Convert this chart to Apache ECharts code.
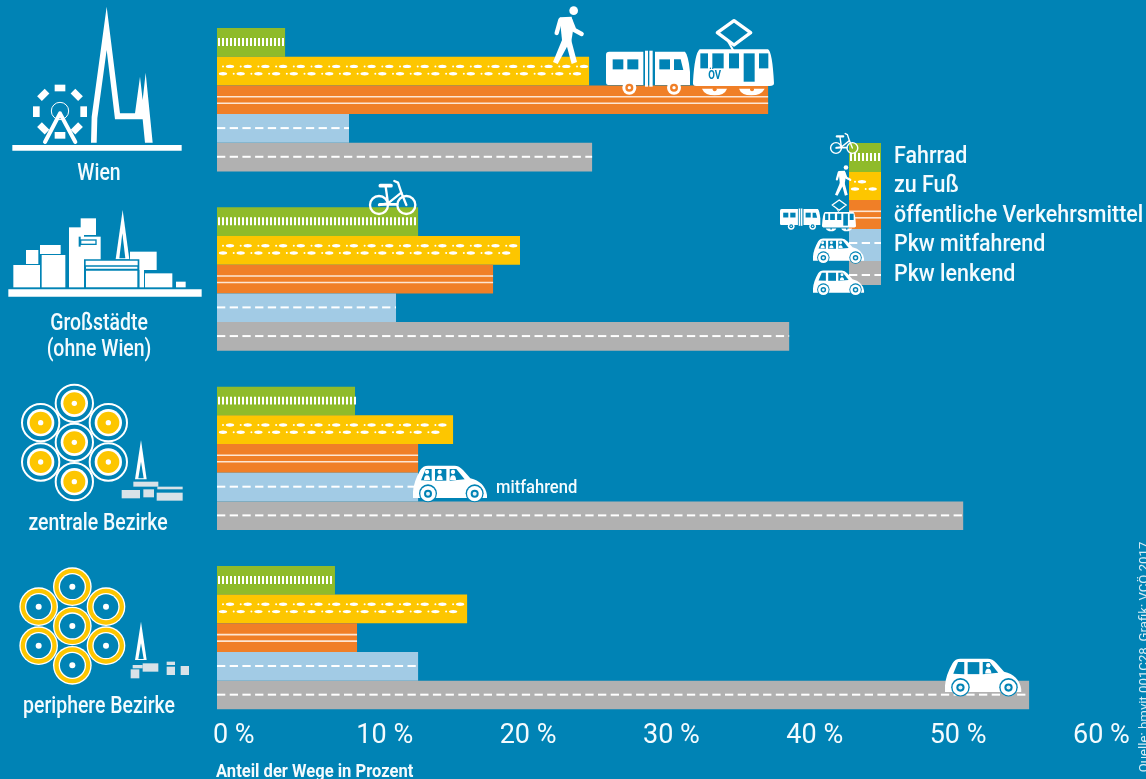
<!DOCTYPE html>
<html><head><meta charset="utf-8">
<style>html,body{margin:0;padding:0;background:#0083b5}#c{width:1146px;height:779px}</style>
<script src="https://cdn.jsdelivr.net/npm/echarts@6/dist/echarts.min.js"></script>
</head><body><div id="c"></div>
<script>
const categories = ['Wien', 'Großstädte\n(ohne Wien)', 'zentrale Bezirke', 'periphere Bezirke'];
const seriesNames = ['Fahrrad', 'zu Fuß', 'öffentliche Verkehrsmittel', 'Pkw mitfahrend', 'Pkw lenkend'];
const fahrrad = [4.75, 14.03, 9.63, 8.23];
const zuFuss = [25.96, 21.14, 16.47, 17.45];
const oev = [38.45, 19.26, 14.03, 9.77];
const mitfahrend = [9.21, 12.49, 14.03, 14.03];
const lenkend = [26.17, 39.92, 52.06, 56.66];
const BG = '#0083b5', GREEN = '#8fbb2a', YELLOW = '#fdc600', ORANGE = '#f07f27', LBLUE = '#a2cbe5', GRAY = '#b1b1b1';
const colors = [GREEN, YELLOW, ORANGE, LBLUE, GRAY];
const FONT = 'Roboto,"Noto Sans",sans-serif';

/* ---- road markings ---- */
function marks(kind, left, right, top, row, out) {
  const k = row / 28.7;
  const add = (x, y, w, h, fill) => out.push({type:'rect', shape:{x, y, width:w, height:h}, style:{fill}});
  if (kind === 0) {
    for (let x = left + 1; x < right - 1; x += 4) add(x, top + 10 * k, 2, 8 * k, '#fff');
  } else if (kind === 1) {
    [[9.7 * k, 13], [17 * k, 6]].forEach(r => {
      for (let x = left + r[1]; x < right - 3; x += 17.7) {
        out.push({type:'ellipse', shape:{cx:x, cy:top + r[0], rx:4.2, ry:1.7}, style:{fill:'#fff'}});
        if (x - 7 > left) out.push({type:'circle', shape:{cx:x - 7, cy:top + r[0], r:1}, style:{fill:'#fff'}});
      }
    });
  } else if (kind === 2) {
    add(left, top + 10.5 * k, right - left, 1.6, '#fde6d3');
    add(left, top + 17 * k, right - left, 1.6, '#fde6d3');
  } else {
    for (let x = left; x < right; x += 12.7) add(x, top + 13 * k, Math.min(8.3, right - x), 2, '#fff');
  }
}
function overlay(kind) {
  return function (params, api) {
    const end = api.coord([api.value(0), api.value(1)]);
    const start = api.coord([0, api.value(1)]);
    const band = api.size([0, 1])[1];
    const row = band * 0.16;
    const top = end[1] + (kind - 2.5) * row;
    const children = [];
    marks(kind, start[0], end[0], top, row, children);
    return {type:'group', children};
  };
}
const allValues = [fahrrad, zuFuss, oev, mitfahrend, lenkend];
const series = [];
allValues.forEach((vals, i) => series.push({
  type:'bar', name:seriesNames[i], data:vals, barWidth:'16%', barGap:0,
  itemStyle:{color:colors[i]}, silent:true
}));
allValues.forEach((vals, i) => series.push({
  type:'custom', name:seriesNames[i] + ' Markierung', renderItem:overlay(i), silent:true, z:3,
  data:vals.map((v, j) => [v, j]), encode:{x:0, y:1}
}));

/* ---- pictogram helpers ---- */
const P = (d, fill) => ({type:'path', shape:{pathData:d}, style:{fill}});
const L = (d, stroke, w) => ({type:'path', shape:{pathData:d}, style:{fill:'none', stroke, lineWidth:w, lineCap:'round', lineJoin:'round'}});
const C = (cx, cy, r, fill) => ({type:'circle', shape:{cx, cy, r}, style:{fill}});
const O = (cx, cy, r, stroke, w) => ({type:'circle', shape:{cx, cy, r}, style:{fill:'none', stroke, lineWidth:w}});
const R = (x0, y0, x1, y1, fill) => ({type:'rect', shape:{x:x0, y:y0, width:x1 - x0, height:y1 - y0}, style:{fill}});
const G = (x, y, k, children) => ({type:'group', x, y, scaleX:k, scaleY:k, children});
const T = (text, x, y, size, sx, weight, align) => ({type:'text', x, y, scaleX:sx, scaleY:1,
  style:{text, fill:'#f4fbfe', font:(weight || '500') + ' ' + size + 'px ' + FONT, align:align || 'left', verticalAlign:'middle', lineHeight:26}});

function car(x, y, s, people) {
  const k = s / 3, ox = 40, oy = 45;
  const kids = [
    P('M40,125 Q42,95 62,60 Q70,47 85,47 L165,47 Q178,47 190,60 L212,85 Q255,95 262,135 L262,144 L40,144 Z', '#fff'),
    P('M64,91 L78,57 L96,57 L96,92 Z', BG), R(106,57,140,92,BG), P('M150,57 L170,57 L195,88 L150,92 Z', BG)
  ];
  const heads = people === 3 ? [82, 120, 160] : [166];
  heads.forEach(h => { kids.push(C(h, 66, 6.5, '#fff')); kids.push(P(`M${h-9},90 Q${h-9},76 ${h},76 Q${h+9},76 ${h+9},90 Z`, '#fff')); });
  [85, 225].forEach(w => { kids.push(C(w, 130, 27, BG)); kids.push(C(w, 131, 23, '#fff')); kids.push(C(w, 131, 12, BG)); kids.push(C(w, 131, 6, '#e8f2f7')); });
  return G(x - ox * k, y - oy * k, k, kids);
}
function tram(x, y, s, hub) {
  const k = s / 3, kids = [
    L('M613,62 L663,98 L613,135 L563,98 Z', '#fff', 10), L('M596,125 L610,150', '#fff', 6),
    P('M510,148 L715,148 Q728,155 733,250 Q733,258 720,258 L500,258 Q488,258 490,245 Q495,160 510,148 Z', '#fff'),
    R(512,160,535,205,BG), R(548,160,582,205,BG), R(598,160,628,205,BG), R(642,160,675,245,BG), R(688,160,716,205,BG),
    P('M517,266 L592,266 Q585,286 555,286 Q525,286 517,266 Z', '#fff'),
    P('M628,266 L705,266 Q695,286 665,286 Q635,286 628,266 Z', '#fff'),
    C(555, 268, 6, hub), C(667, 268, 6, hub)
  ];
  if (s > 0.7) kids.push({type:'text', x:555, y:228, scaleX:0.8, style:{text:'ÖV', fill:BG, font:'bold 36px ' + FONT, align:'center', verticalAlign:'middle'}});
  return G(x - 490 * k, y - 62 * k, k, kids);
}
function bus(x, y, s, hub) {
  const k = s / 3, kids = [
    P('M228,165 Q228,155 238,155 L340,155 L340,255 L235,255 Q228,255 228,245 Z', '#fff'),
    R(345,152,354,260,'#fff'), R(358,152,368,260,'#fff'),
    P('M375,155 L465,155 Q475,165 480,215 L480,255 L375,255 Z', '#fff'),
    R(248,178,280,208,BG), R(292,178,325,208,BG), R(388,178,420,208,BG), P('M432,178 L452,178 L460,210 L432,210 Z', BG)
  ];
  [298, 432].forEach(w => { kids.push(C(w, 263, 21, '#fff')); kids.push(C(w, 263, 12, hub)); kids.push(C(w, 263, 5, '#fff')); });
  return G(x - 228 * k, y - 155 * k, k, kids);
}
function walker(x, y, s) {
  const k = s / 3;
  return G(x - 70 * k, y - 18 * k, k, [
    C(132, 32, 13, '#fff'),
    P('M90,52 L126,50 L132,80 L124,130 L98,130 Z', '#fff'),
    L('M92,60 L81,99', '#fff', 13), L('M122,60 L134,90 L156,102', '#fff', 13),
    P('M98,118 L70,186 L84,192 L112,140 L126,192 L142,186 L124,118 Z', '#fff')
  ]);
}
function bike(x, y, s) {
  const k = s / 3;
  return G(x - 28 * k, y - 30 * k, k, [
    O(58, 105, 27, '#fff', 7), O(140, 105, 27, '#fff', 7),
    L('M58,105 L85,100 L125,68 L140,105', '#fff', 7),
    L('M85,100 L78,50', '#fff', 7), L('M125,68 L115,38 L104,33', '#fff', 7),
    L('M62,47 L94,47', '#fff', 11), L('M60,103 L112,103', '#fff', 8)
  ]);
}

/* ---- left-hand pictograms ---- */
const wheelSegs = [];
for (let a = 0; a < 8; a++) {
  const t = a * Math.PI / 4;
  wheelSegs.push({type:'rect', x:180 + 71 * Math.sin(t), y:335 - 71 * Math.cos(t), rotation:-t,
    shape:{x:-16, y:-10, width:32, height:20}, style:{fill:'#fff'}});
}
const wien = G(0, 0, 1/3, [
  R(37,435,545,452,'#fff'),
  P('M273,428 L275,350 L320,20 L360,340 L405,340 L420,230 L428,300 L437,218 L458,428 L435,428 L428,358 L345,358 L320,150 L292,355 L290,428 Z', '#fff'),
  ...wheelSegs,
  O(180, 333, 26, '#fff', 3),
  L('M135,426 L180,340 L226,426', '#fff', 12)
]);
const city = G(0, 190, 1/3, [
  R(25,298,605,320,'#fff'), R(40,225,120,292,'#fff'), R(78,180,115,222,'#fff'), R(125,195,196,292,'#fff'), R(120,165,182,192,'#fff'),
  R(207,112,252,292,'#fff'), R(252,140,302,210,'#fff'), R(242,85,288,135,'#fff'),
  R(236,140,242,170,BG), R(240,148,290,165,BG), R(244,152,286,161,'#fff'),
  P('M368,60 L388,208 L347,208 Z', '#fff'), P('M367,130 L376,205 L358,205 Z', BG),
  R(390,185,470,240,'#fff'), R(418,240,432,292,'#fff'),
  R(252,208,418,296,BG), R(257,212,413,226,'#fff'), R(258,242,412,292,'#fff'), R(258,230,412,236,'#fff'),
  R(435,250,517,292,'#fff'), R(528,275,557,292,'#fff')
]);
const centers1 = [[223,70],[122,128],[325,128],[223,187],[122,246],[325,246],[223,305]];
const centers2 = [[217,80],[116,140],[318,140],[217,198],[116,257],[318,257],[217,316]];
const bez1 = G(0, 380, 1/3, [
  ...centers1.flatMap(c => [O(c[0],c[1],56,'#fff',6), C(c[0],c[1],41,'#fff'), C(c[0],c[1],33,YELLOW), C(c[0],c[1],8,'#fff')]),
  P('M423,180 L440,298 L405,298 Z', '#fff'), P('M423,245 L431,295 L415,295 Z', BG),
  R(365,330,420,355,'#d8e2e8'), R(430,328,462,352,'#d8e2e8'), R(470,338,548,362,'#d8e2e8'), R(400,305,475,320,'#d8e2e8'), R(472,320,548,328,'#d8e2e8')
]);
const bez2 = G(0, 560, 1/3, [
  ...centers2.flatMap(c => [C(c[0],c[1],58,'#fff'), C(c[0],c[1],54,YELLOW), C(c[0],c[1],41,'#fff'), C(c[0],c[1],37,BG), C(c[0],c[1],9,'#fff')]),
  P('M423,185 L440,300 L405,300 Z', '#fff'), P('M423,250 L431,297 L415,297 Z', BG),
  R(392,328,418,355,'#d8e2e8'), R(428,310,475,335,'#d8e2e8'), R(398,315,428,325,'#d8e2e8'), R(500,305,525,315,'#d8e2e8'), R(500,320,525,345,'#d8e2e8'), R(542,318,567,345,'#d8e2e8')
]);

/* ---- legend swatches ---- */
const legendRows = [143, 172, 200, 229, 261, 285];
const legendEls = [];
colors.forEach((col, i) => {
  legendEls.push({type:'rect', shape:{x:849, y:legendRows[i], width:32, height:legendRows[i + 1] - legendRows[i]}, style:{fill:col}});
  marks(i, 849, 881, legendRows[i], 28.7, legendEls);
  legendEls.push(T(seriesNames[i], 894, [157, 186, 216, 245, 275][i], 24.5, 0.875));
});

const labelEls = [174, 337, 524, 707].map((y, i) => T(categories[i], [99, 99, 98, 99][i], y, 24, 0.81, '500', 'center'));

series.push({
  type:'custom', name:'Piktogramme', coordinateSystem:'none', silent:true, z:10, data:[[0]],
  renderItem:() => ({type:'group', children:[
    wien, city, bez1, bez2, ...labelEls, ...legendEls,
    walker(553, 6, 1), bus(606, 51.7, 1, ORANGE), tram(693, 20.7, 1, ORANGE),
    bike(369, 180, 1),
    car(413, 465, 1, 3), T('mitfahrend', 496, 488, 18, 0.92),
    car(945, 658, 1.03, 1),
    bike(830, 133, 0.6), walker(835, 165, 0.53), bus(780, 209, 0.48, BG), tram(822, 200, 0.42, BG),
    car(813, 238, 0.69, 3), car(813, 270, 0.69, 1),
    T('Anteil der Wege in Prozent', 216, 772, 18, 0.92, 'bold'),
    {type:'text', x:1145, y:657, rotation:Math.PI / 2,
      style:{text:'Quelle: bmvit 001C28, Grafik: VCÖ 2017', fill:'#d6ecf5', font:'13.2px ' + FONT, align:'center', verticalAlign:'middle'}}
  ]})
});

const chart = echarts.init(document.getElementById('c'), null, {renderer:'canvas'});
chart.setOption({
  animation:false,
  backgroundColor:BG,
  grid:{left:217, width:860, top:10.1, height:717.2, containLabel:false},
  xAxis:{type:'value', min:0, max:60, interval:10, splitLine:{show:false}, axisLine:{show:false}, axisTick:{show:false},
    axisLabel:{show:true, color:'#f4fbfe', fontFamily:FONT, fontSize:27, align:'left', verticalAlign:'top', margin:-5, padding:[0,0,0,-4],
      hideOverlap:false, formatter:v => v + ' %'}},
  yAxis:{type:'category', inverse:true, data:categories, axisLine:{show:false}, axisTick:{show:false}, axisLabel:{show:false}},
  series
});
</script></body></html>
